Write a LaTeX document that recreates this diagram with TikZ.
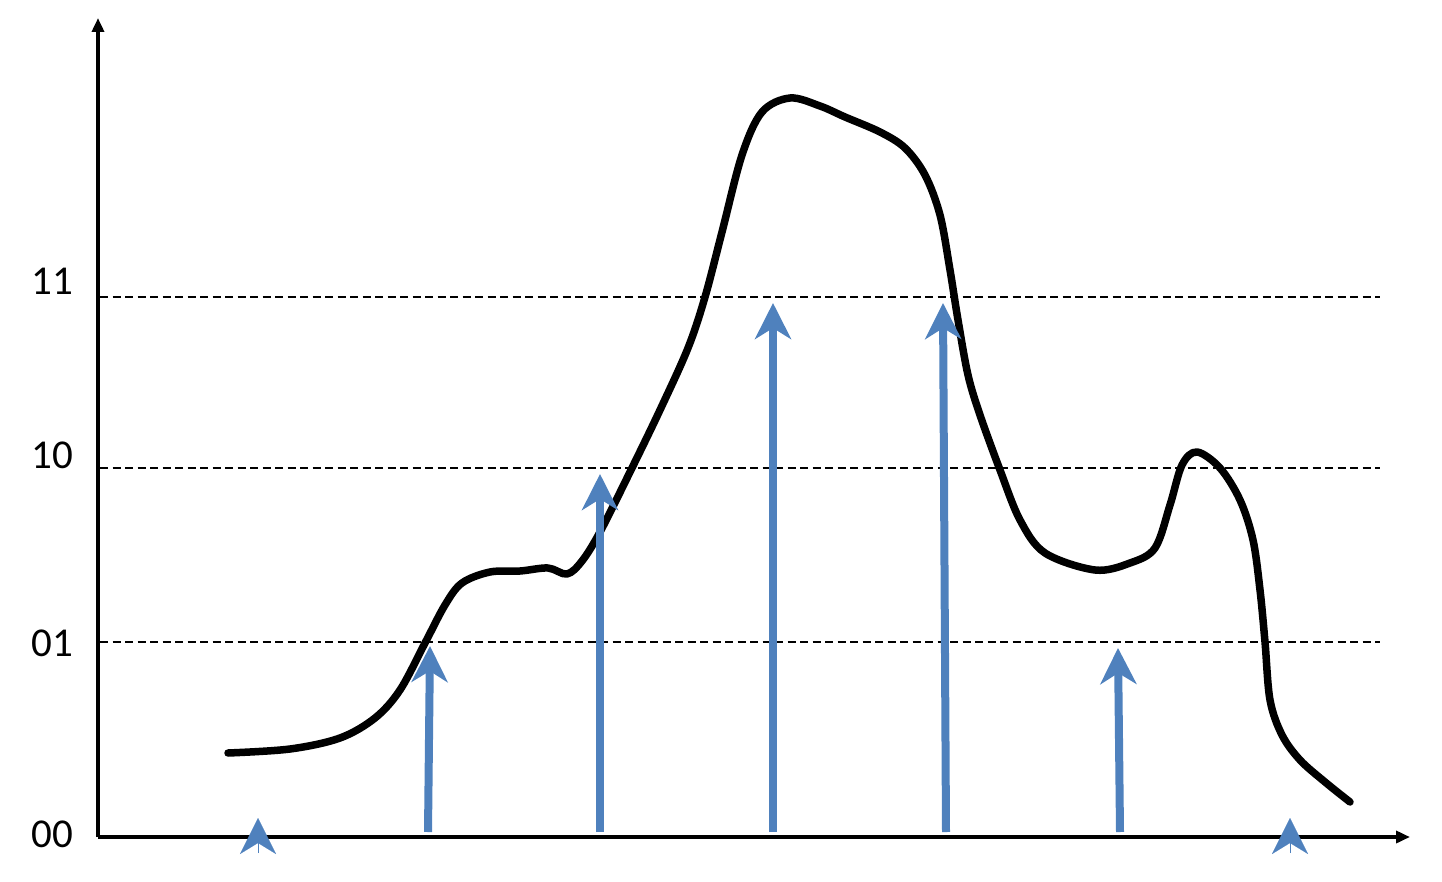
\documentclass[tikz,border=0pt]{standalone}
\usepackage{fontspec}
\setmainfont{Carlito}
\usetikzlibrary{arrows.meta}
\definecolor{arrowblue}{RGB}{79,129,189}
\tikzset{
  axisline/.style={line width=4pt,-{Triangle[length=14pt,width=12pt]}},
  levelline/.style={line width=2.4pt,dash pattern=on 8pt off 4.5pt},
  levellabel/.style={font=\fontsize{41}{41}\selectfont,anchor=east,inner sep=0pt},
  sample/.style={draw=arrowblue,line width=8pt,-{Stealth[length=36pt,width=36pt,inset=11pt,arrowblue]}},
  signal/.style={line width=7.5pt,line cap=round,line join=round}
}
\begin{document}
\begin{tikzpicture}[x=1pt,y=-1pt]
\useasboundingbox (0,0) rectangle (1442,882);
% origin and axis ends
\coordinate (O) at (98,837);
\coordinate (ytop) at (98,18);
\coordinate (xend) at (1410,837);
% level lines
\coordinate (l11a) at (100,297); \coordinate (l11b) at (1380,297);
\coordinate (l10a) at (100,468); \coordinate (l10b) at (1380,468);
\coordinate (l01a) at (100,642); \coordinate (l01b) at (1380,642);
\draw[levelline] (l11a) -- (l11b);
\draw[levelline] (l10a) -- (l10b);
\draw[levelline] (l01a) -- (l01b);
% axes
\draw[axisline] (O) -- (ytop);
\draw[axisline] (O) -- (xend);
% labels
\node[levellabel] (t11) at (73,281) {11};
\node[levellabel] (t10) at (73,455) {10};
\node[levellabel] (t01) at (73,643) {01};
\node[levellabel] (t00) at (73,834) {00};
% signal
\draw[signal] plot[smooth,tension=0.55] coordinates {
 (228,753) (290,749) (340,738) (375,718) (400,690) (425,643) (445,605)
 (462,583) (490,572) (520,571) (548,568) (567,574) (582,561) (600,532)
 (630,472) (660,410) (688,348) (705,297) (722,232) (742,155) (762,112)
 (790,98) (820,106) (845,117) (880,132) (905,148) (925,175) (940,215)
 (950,270) (958,320) (968,375) (980,415) (1000,470) (1020,520)
 (1045,553) (1095,570) (1130,563) (1155,548) (1170,505) (1182,465)
 (1197,452) (1220,468) (1240,500) (1253,540) (1260,590) (1265,642)
 (1270,700) (1282,735) (1300,760) (1325,782) (1350,802)};
% sample arrows
\coordinate (b1) at (258,853); \coordinate (h1) at (258,818);
\coordinate (b2) at (428,832); \coordinate (h2) at (430,646);
\coordinate (b3) at (600,832); \coordinate (h3) at (600,474);
\coordinate (b4) at (773,832); \coordinate (h4) at (773,303);
\coordinate (b5) at (946,832); \coordinate (h5) at (943,303);
\coordinate (b6) at (1120,832); \coordinate (h6) at (1118,648);
\coordinate (b7) at (1290,853); \coordinate (h7) at (1290,818);
\draw[sample,line width=0.1pt] (b1) -- (h1);
\draw[sample] (b2) -- (h2);
\draw[sample] (b3) -- (h3);
\draw[sample] (b4) -- (h4);
\draw[sample] (b5) -- (h5);
\draw[sample] (b6) -- (h6);
\draw[sample,line width=0.1pt] (b7) -- (h7);
\end{tikzpicture}
\end{document}
